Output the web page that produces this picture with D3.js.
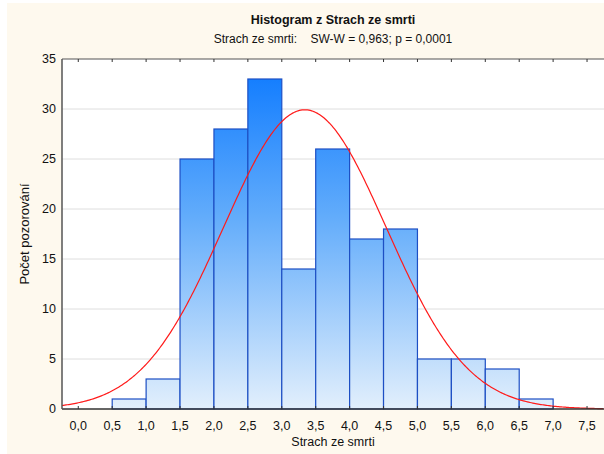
<!DOCTYPE html>
<html>
<head>
<meta charset="utf-8">
<script src="https://cdn.jsdelivr.net/npm/d3@7"></script>
<style>
  body { margin: 0; background: #fff; }
  text { font-family: "Liberation Sans", Arial, sans-serif; fill: #111; }
</style>
</head>
<body>
<svg id="chart" width="604" height="454"></svg>
<script>
// histogram data (bin starts, width 0.5)
const binStarts = [0.0, 0.5, 1.0, 1.5, 2.0, 2.5, 3.0, 3.5, 4.0, 4.5, 5.0, 5.5, 6.0, 6.5, 7.0];
const counts = [0, 1, 3, 25, 28, 33, 14, 26, 17, 18, 5, 5, 4, 1, 0];
const binWidth = 0.5;

// fitted normal curve
const normMean = 3.34;
const normSd = 1.2;

// ticks
const xTicks = [0, 0.5, 1, 1.5, 2, 2.5, 3, 3.5, 4, 4.5, 5, 5.5, 6, 6.5, 7, 7.5];
const yTicks = [0, 5, 10, 15, 20, 25, 30, 35];

const title = 'Histogram z Strach ze smrti';
const subtitle = 'Strach ze smrti:    SW-W = 0,963; p = 0,0001';
const xTitle = 'Strach ze smrti';
const yTitle = 'Počet pozorování';

const svg = d3.select('#chart');
const margins = { left: 62, top: 59, right: 0, bottom: 45 };
const W = 604, H = 454;
const fmt = (v) => d3.format('.1f')(v).replace('.', ',');

// cream background
svg.append('rect')
  .attr('x', 7).attr('y', 3)
  .attr('width', W - 7).attr('height', H - 3)
  .attr('fill', '#fef9ee');

const x = d3.scaleLinear().domain([-0.24, 7.75]).range([margins.left, W - margins.right]);
const y = d3.scaleLinear().domain([0, 35]).range([H - margins.bottom, margins.top]);

// plot area
svg.append('rect')
  .attr('x', x.range()[0]).attr('y', y(35))
  .attr('width', x.range()[1] - x.range()[0]).attr('height', y(0) - y(35))
  .attr('fill', '#fff');

// gradient for bars
const defs = svg.append('defs');
const grad = defs.append('linearGradient')
  .attr('id', 'barGrad')
  .attr('gradientUnits', 'userSpaceOnUse')
  .attr('x1', 0).attr('x2', 0)
  .attr('y1', y(35)).attr('y2', y(0));
grad.append('stop').attr('offset', '0%').attr('stop-color', '#0a78ff');
grad.append('stop').attr('offset', '45%').attr('stop-color', '#62acfb');
grad.append('stop').attr('offset', '100%').attr('stop-color', '#e2effc');

// gridlines
svg.append('g')
  .selectAll('line')
  .data(yTicks.filter((d) => d > 0 && d < 35))
  .enter()
  .append('line')
  .attr('x1', x.range()[0]).attr('x2', x.range()[1])
  .attr('y1', (d) => y(d)).attr('y2', (d) => y(d))
  .attr('stroke', '#dedede')
  .attr('stroke-width', 1);

// bars
const bins = binStarts.map((b, i) => ({ x0: b, x1: b + binWidth, n: counts[i] }));
svg.append('g')
  .selectAll('rect')
  .data(bins)
  .enter()
  .append('rect')
  .attr('x', (d) => x(d.x0))
  .attr('y', (d) => y(d.n))
  .attr('width', (d) => x(d.x1) - x(d.x0))
  .attr('height', (d) => y(0) - y(d.n))
  .attr('fill', 'url(#barGrad)')
  .attr('stroke', '#1d4fc4')
  .attr('stroke-width', 1.2);

// normal curve
const total = d3.sum(counts);
const curveX = d3.range(x.domain()[0], x.domain()[1] + 0.01, 0.02);
const density = (v) => total * binWidth * Math.exp(-0.5 * ((v - normMean) / normSd) ** 2) / (normSd * Math.sqrt(2 * Math.PI));
svg.append('path')
  .datum(curveX)
  .attr('fill', 'none')
  .attr('stroke', '#ff1a1a')
  .attr('stroke-width', 1.2)
  .attr('d', d3.line().x((d) => x(d)).y((d) => y(density(d))));

// axes frame
const axisColor = '#555';
svg.append('line')
  .attr('x1', x.range()[0]).attr('x2', x.range()[1])
  .attr('y1', y(35)).attr('y2', y(35))
  .attr('stroke', axisColor).attr('stroke-width', 1.2);
svg.append('line')
  .attr('x1', x.range()[0]).attr('x2', x.range()[1])
  .attr('y1', y(0)).attr('y2', y(0))
  .attr('stroke', '#333').attr('stroke-width', 1.5);
svg.append('line')
  .attr('x1', x.range()[0]).attr('x2', x.range()[0])
  .attr('y1', y(35)).attr('y2', y(0))
  .attr('stroke', axisColor).attr('stroke-width', 1.5);

// x ticks top and bottom
const tickG = svg.append('g');
xTicks.forEach((t) => {
  tickG.append('line')
    .attr('x1', x(t)).attr('x2', x(t))
    .attr('y1', y(35)).attr('y2', y(35) + 3)
    .attr('stroke', '#333');
  tickG.append('line')
    .attr('x1', x(t)).attr('x2', x(t))
    .attr('y1', y(0)).attr('y2', y(0) - 3)
    .attr('stroke', '#333');
});

// x tick labels
svg.append('g')
  .selectAll('text')
  .data(xTicks)
  .enter()
  .append('text')
  .attr('x', (d) => x(d))
  .attr('y', y(0) + 21)
  .attr('text-anchor', 'middle')
  .style('font-size', '12.5px')
  .text((d) => fmt(d));

// y tick labels
svg.append('g')
  .selectAll('text')
  .data(yTicks)
  .enter()
  .append('text')
  .attr('x', x.range()[0] - 6)
  .attr('y', (d) => y(d) + 4)
  .attr('text-anchor', 'end')
  .style('font-size', '12.5px')
  .text((d) => d);

// titles
svg.append('text')
  .attr('x', 333).attr('y', 24)
  .attr('text-anchor', 'middle')
  .style('font-size', '12.5px')
  .style('font-weight', 'bold')
  .text(title);

svg.append('text')
  .attr('x', 333).attr('y', 43)
  .attr('text-anchor', 'middle')
  .style('font-size', '12px')
  .style('white-space', 'pre')
  .attr('xml:space', 'preserve')
  .text(subtitle);

svg.append('text')
  .attr('x', 333).attr('y', 446)
  .attr('text-anchor', 'middle')
  .style('font-size', '12.5px')
  .text(xTitle);

svg.append('text')
  .attr('transform', `translate(29, ${y(17.5)}) rotate(-90)`)
  .attr('text-anchor', 'middle')
  .style('font-size', '13px')
  .text(yTitle);
</script>
</body>
</html>
